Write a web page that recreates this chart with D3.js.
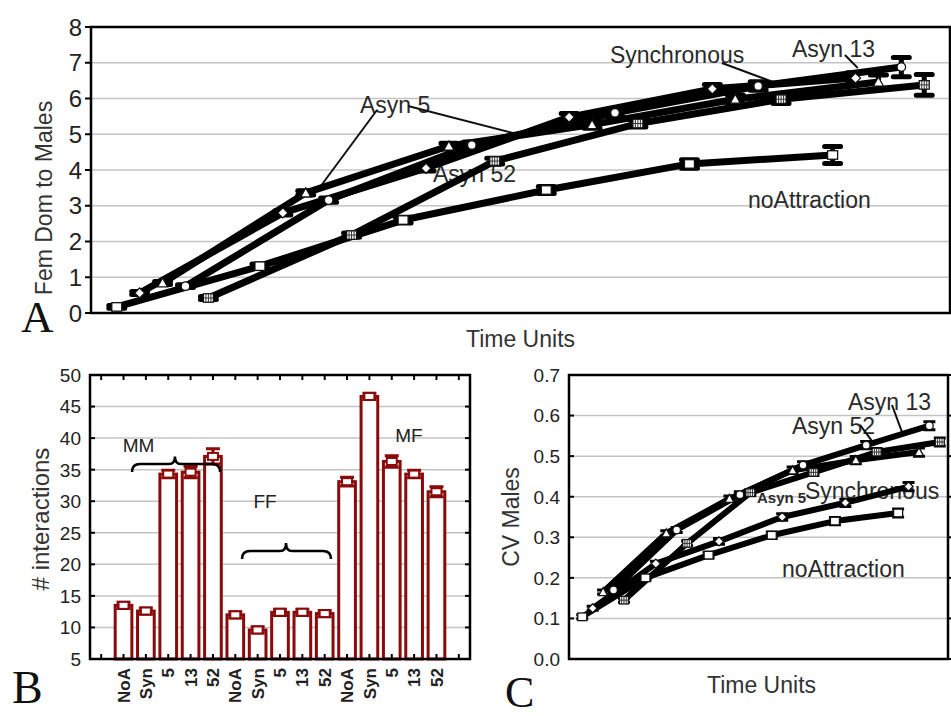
<!DOCTYPE html>
<html><head><meta charset="utf-8">
<script src="https://cdn.jsdelivr.net/npm/d3@7"></script>
<style>body{margin:0;background:#fff}svg{display:block;font-family:"Liberation Sans",Arial,sans-serif}</style>
</head><body><svg id="c" width="951" height="716"></svg>
<script>
// ---------- DATA ----------
const seriesNames = ["noAttraction", "Synchronous", "Asyn 5", "Asyn 13", "Asyn 52"];
const seriesMarkers = ["square", "diamond", "triangle", "circle", "grid"];
const timeSteps = [1, 2, 3, 4, 5, 6];

// Panel A: Fem Dom to Males
const femDomNoAttraction = [0.17, 1.31, 2.60, 3.44, 4.17, 4.42];
const femDomSynchronous  = [0.56, 2.80, 4.05, 5.48, 6.27, 6.57];
const femDomAsyn5        = [0.84, 3.36, 4.67, 5.27, 5.98, 6.46];
const femDomAsyn13       = [0.75, 3.16, 4.70, 5.60, 6.35, 6.88];
const femDomAsyn52       = [0.42, 2.18, 4.25, 5.30, 5.98, 6.38];
const femDomErrNoAttraction = [0.04, 0.06, 0.08, 0.10, 0.12, 0.24];
const femDomErrSynchronous  = [0.04, 0.06, 0.08, 0.10, 0.12, 0.15];
const femDomErrAsyn5        = [0.04, 0.06, 0.08, 0.10, 0.12, 0.20];
const femDomErrAsyn13       = [0.04, 0.06, 0.08, 0.10, 0.12, 0.27];
const femDomErrAsyn52       = [0.04, 0.06, 0.08, 0.10, 0.12, 0.29];
const femDomTicks = [0, 1, 2, 3, 4, 5, 6, 7, 8];

// Panel B: # interactions
const barGroups = ["MM", "FF", "MF"];
const barTickLabels = ["NoA", "Syn", "5", "13", "52"];
const interactionsMM = [13.5, 12.6, 34.3, 34.6, 37.1];
const interactionsFF = [12.0, 9.6, 12.4, 12.4, 12.2];
const interactionsMF = [33.1, 46.6, 36.3, 34.3, 31.5];
const interactionsErrMM = [0.5, 0.5, 0.6, 0.9, 1.2];
const interactionsErrFF = [0.5, 0.5, 0.5, 0.5, 0.5];
const interactionsErrMF = [0.7, 0.5, 0.9, 0.6, 0.8];
const interactionsTicks = [5, 10, 15, 20, 25, 30, 35, 40, 45, 50];

// Panel C: CV Males
const cvNoAttraction = [0.104, 0.200, 0.256, 0.305, 0.340, 0.360];
const cvSynchronous  = [0.125, 0.235, 0.290, 0.350, 0.385, 0.425];
const cvAsyn5        = [0.165, 0.310, 0.395, 0.465, 0.490, 0.510];
const cvAsyn13       = [0.170, 0.318, 0.405, 0.478, 0.527, 0.575];
const cvAsyn52       = [0.145, 0.285, 0.410, 0.460, 0.510, 0.535];
const cvErr          = [0.005, 0.006, 0.007, 0.008, 0.009, 0.010];
const cvTicks = [0.0, 0.1, 0.2, 0.3, 0.4, 0.5, 0.6, 0.7];

// ---------- HELPERS ----------
const svg = d3.select("#c");
const TXT = "#222";

function marker(g, type, x, y, s) {
  const h = s / 2;
  const st = {fill: "#fff", stroke: "#111", "stroke-width": 1.3};
  let m;
  if (type === "square" || type === "grid") {
    m = g.append("rect").attr("x", x - h).attr("y", y - h * 0.85).attr("width", s).attr("height", s * 0.85);
  } else if (type === "diamond") {
    m = g.append("path").attr("d", `M${x},${y - h}L${x + h},${y}L${x},${y + h}L${x - h},${y}Z`);
  } else if (type === "triangle") {
    m = g.append("path").attr("d", `M${x},${y - h}L${x + h},${y + h * 0.8}L${x - h},${y + h * 0.8}Z`);
  } else {
    m = g.append("circle").attr("cx", x).attr("cy", y).attr("r", h * 0.85);
  }
  Object.entries(st).forEach(([k, v]) => m.attr(k, v));
  if (type === "grid") {
    g.append("path").attr("d", `M${x - h},${y}H${x + h}M${x},${y - h * 0.85}V${y + h * 0.85}M${x - h / 2},${y - h * 0.85}V${y + h * 0.85}M${x + h / 2},${y - h * 0.85}V${y + h * 0.85}`)
      .attr("stroke", "#333").attr("stroke-width", 1);
  }
}

// ---------- PANEL A ----------
(function () {
  const L = 91, R = 950, T = 27, B = 313;
  const x = d3.scaleLinear().domain([0.5, 6.5]).range([L, R]);
  const y = d3.scaleLinear().domain([0, 8]).range([B, T]);
  const dodge = d3.scalePoint().domain(seriesNames).range([-0.32, 0.32]);
  const vals = [femDomNoAttraction, femDomSynchronous, femDomAsyn5, femDomAsyn13, femDomAsyn52];
  const errs = [femDomErrNoAttraction, femDomErrSynchronous, femDomErrAsyn5, femDomErrAsyn13, femDomErrAsyn52];
  const g = svg.append("g");
  g.selectAll(".grid").data(femDomTicks.slice(1, -1)).join("line")
    .attr("x1", L).attr("x2", R).attr("y1", d => y(d)).attr("y2", d => y(d))
    .attr("stroke", "#c4c4c4").attr("stroke-width", 1.5);

  const labels = [
    {text: "Asyn 5", t: 2.379, v: 5.594},
    {text: "Asyn 52", t: 2.889, v: 3.664},
    {text: "Synchronous", t: 4.125, v: 6.993},
    {text: "Asyn 13", t: 5.396, v: 7.161},
    {text: "noAttraction", t: 5.089, v: 2.937}
  ];
  g.selectAll(".lab").data(labels).join("text").attr("x", d => x(d.t)).attr("y", d => y(d.v))
    .attr("font-size", 23).attr("fill", "#2a2a2a").text(d => d.text);
  const pointers = [
    [2.498, 5.678, 2.100, 3.524], [2.714, 5.790, 3.448, 5.035],
    [4.907, 6.993, 5.264, 6.462], [5.766, 7.217, 5.856, 6.853]
  ];
  g.selectAll(".ptr").data(pointers).join("line")
    .attr("x1", d => x(d[0])).attr("y1", d => y(d[1])).attr("x2", d => x(d[2])).attr("y2", d => y(d[3]))
    .attr("stroke", "#111").attr("stroke-width", 2);

  seriesNames.forEach((s, i) => {
    const pts = timeSteps.map((t, j) => ({t, v: vals[i][j], e: errs[i][j]}));
    g.append("path").datum(pts)
      .attr("d", d3.line().x(d => x(d.t + dodge(s))).y(d => y(d.v)))
      .attr("fill", "none").attr("stroke", "#000").attr("stroke-width", 7).attr("stroke-linejoin", "round");
    pts.forEach(d => {
      const cx = x(d.t + dodge(s));
      g.append("path").attr("d", `M${cx},${y(d.v + d.e)}V${y(d.v - d.e)}M${cx - 8},${y(d.v + d.e)}H${cx + 8}M${cx - 8},${y(d.v - d.e)}H${cx + 8}`)
        .attr("stroke", "#000").attr("stroke-width", 5).attr("stroke-linecap", "round").attr("fill", "none");
    });
  });
  seriesNames.forEach((s, i) => {
    timeSteps.forEach((t, j) => marker(g, seriesMarkers[i], x(t + dodge(s)), y(vals[i][j]), 10));
  });

  g.append("rect").attr("x", L).attr("y", T).attr("width", R - L).attr("height", B - T)
    .attr("fill", "none").attr("stroke", "#000").attr("stroke-width", 2.5);
  femDomTicks.forEach(t => {
    g.append("line").attr("x1", L - 6).attr("x2", L).attr("y1", y(t)).attr("y2", y(t)).attr("stroke", "#000").attr("stroke-width", 2);
    g.append("line").attr("x1", R).attr("x2", R + 4).attr("y1", y(t)).attr("y2", y(t)).attr("stroke", "#000").attr("stroke-width", 2);
    g.append("text").attr("x", L - 9).attr("y", y(t)).attr("dy", "0.36em").attr("text-anchor", "end")
      .attr("font-size", 24).attr("fill", TXT).text(t);
  });
  g.append("text").attr("transform", `translate(44,${(T + B) / 2 + 28}) rotate(-90)`).attr("dy", "0.36em")
    .attr("text-anchor", "middle").attr("font-size", 23).attr("fill", "#333").text("Fem Dom to Males");
  g.append("text").attr("x", (L + R) / 2).attr("y", 347).attr("text-anchor", "middle")
    .attr("font-size", 23).attr("fill", "#333").text("Time Units");
  g.append("text").attr("x", 21).attr("y", 332).attr("font-family", "Liberation Serif,Times New Roman,serif")
    .attr("font-size", 45).attr("fill", "#111").text("A");
})();

// ---------- PANEL B ----------
(function () {
  const L = 90, R = 470, T = 375, B = 659;
  const RED = "#8a0a0a";
  const cats = [];
  barGroups.forEach(gr => barTickLabels.forEach(l => cats.push(gr + "|" + l)));
  const allVals = [...interactionsMM, ...interactionsFF, ...interactionsMF];
  const allErr = [...interactionsErrMM, ...interactionsErrFF, ...interactionsErrMF];
  const x = d3.scaleBand().domain(cats).range([L, R]).paddingInner(0.12).paddingOuter(1.06);
  const slot = d3.scaleLinear().domain([-0.5, 16.5]).range([L, R]);
  const y = d3.scaleLinear().domain([5, 50]).range([B, T]);
  const g = svg.append("g");
  g.selectAll(".grid").data(interactionsTicks.slice(1, -1)).join("line")
    .attr("x1", L).attr("x2", R).attr("y1", d => y(d)).attr("y2", d => y(d))
    .attr("stroke", "#c4c4c4").attr("stroke-width", 1.5);

  const data = cats.map((c, i) => ({c, v: allVals[i], e: allErr[i], lab: c.split("|")[1]}));
  const bw = x.bandwidth();
  g.selectAll(".bar").data(data).join("rect")
    .attr("x", d => x(d.c) + 1.5).attr("y", d => y(d.v)).attr("width", bw - 3).attr("height", d => B - y(d.v))
    .attr("fill", "#fff").attr("stroke", RED).attr("stroke-width", 3);
  data.forEach(d => {
    const cx = x(d.c) + bw / 2;
    g.append("path").attr("d", `M${cx},${y(d.v + d.e)}V${y(d.v - d.e)}M${cx - 7},${y(d.v + d.e)}H${cx + 7}M${cx - 7},${y(d.v - d.e)}H${cx + 7}`)
      .attr("stroke", RED).attr("stroke-width", 3).attr("fill", "none");
    g.append("rect").attr("x", cx - 5).attr("y", y(d.v) - 3.5).attr("width", 10).attr("height", 7)
      .attr("fill", "#fff").attr("stroke", RED).attr("stroke-width", 2);
  });

  function brace(x0, x1, xm, yb, yt) {
    return `M${x0},${yb + 8}Q${x0},${yb} ${x0 + 8},${yb}L${xm - 6},${yb}Q${xm},${yb} ${xm},${yt}Q${xm},${yb} ${xm + 6},${yb}L${x1 - 8},${yb}Q${x1},${yb} ${x1},${yb + 8}`;
  }
  const braces = [{a: 1.38, b: 5.32, m: 3.3, base: 35.9, tip: 37.1}, {a: 6.3, b: 10.28, m: 8.27, base: 22.1, tip: 23.4}];
  braces.forEach(d => g.append("path").attr("d", brace(slot(d.a), slot(d.b), slot(d.m), y(d.base), y(d.tip)))
    .attr("fill", "none").attr("stroke", "#000").attr("stroke-width", 2.5));
  const groupLabels = [{text: "MM", s: 1.67, v: 37.8}, {text: "FF", s: 7.33, v: 28.93}, {text: "MF", s: 13.77, v: 39.38}];
  g.selectAll(".gl").data(groupLabels).join("text").attr("x", d => slot(d.s)).attr("y", d => y(d.v))
    .attr("text-anchor", "middle").attr("font-size", 19).attr("fill", "#222").text(d => d.text);

  g.append("rect").attr("x", L).attr("y", T).attr("width", R - L).attr("height", B - T)
    .attr("fill", "none").attr("stroke", "#000").attr("stroke-width", 2.5);
  d3.range(17).forEach(k => {
    g.append("line").attr("x1", slot(k)).attr("x2", slot(k)).attr("y1", T).attr("y2", T + 5).attr("stroke", "#000").attr("stroke-width", 2);
    g.append("line").attr("x1", slot(k)).attr("x2", slot(k)).attr("y1", B).attr("y2", B - 5).attr("stroke", "#000").attr("stroke-width", 2);
  });
  interactionsTicks.forEach(t => {
    g.append("line").attr("x1", L).attr("x2", L + 5).attr("y1", y(t)).attr("y2", y(t)).attr("stroke", "#000").attr("stroke-width", 2);
    g.append("line").attr("x1", R - 5).attr("x2", R).attr("y1", y(t)).attr("y2", y(t)).attr("stroke", "#000").attr("stroke-width", 2);
    g.append("text").attr("x", L - 9).attr("y", y(t)).attr("dy", "0.36em").attr("text-anchor", "end")
      .attr("font-size", 19).attr("fill", TXT).text(t);
  });
  data.forEach(d => {
    g.append("text").attr("transform", `translate(${x(d.c) + bw / 2},${B + 9}) rotate(-90)`)
      .attr("dy", "0.36em").attr("text-anchor", "end").attr("font-size", 17).attr("font-weight", "bold")
      .attr("fill", "#222").text(d.lab);
  });
  g.append("text").attr("transform", `translate(40,${(T + B) / 2 + 2}) rotate(-90)`).attr("dy", "0.36em")
    .attr("text-anchor", "middle").attr("font-size", 24).attr("fill", "#333").text("# interactions");
  g.append("text").attr("x", 12).attr("y", 703).attr("font-family", "Liberation Serif,Times New Roman,serif")
    .attr("font-size", 46).attr("fill", "#111").text("B");
})();

// ---------- PANEL C ----------
(function () {
  const L = 569, R = 948, T = 375, B = 659;
  const x = d3.scaleLinear().domain([0.45, 6.45]).range([L, R]);
  const y = d3.scaleLinear().domain([0, 0.7]).range([B, T]);
  const dodge = d3.scalePoint().domain(seriesNames).range([-0.34, 0.32]);
  const vals = [cvNoAttraction, cvSynchronous, cvAsyn5, cvAsyn13, cvAsyn52];
  const g = svg.append("g");
  g.selectAll(".grid").data(cvTicks.slice(1, -1)).join("line")
    .attr("x1", L).attr("x2", R).attr("y1", d => y(d)).attr("y2", d => y(d))
    .attr("stroke", "#c4c4c4").attr("stroke-width", 1.5);

  const labels = [
    {text: "Asyn 13", t: 4.867, v: 0.614, fs: 23, fw: "normal"},
    {text: "Asyn 52", t: 3.980, v: 0.555, fs: 23, fw: "normal"},
    {text: "Synchronous", t: 4.186, v: 0.394, fs: 23, fw: "normal"},
    {text: "Asyn 5", t: 3.426, v: 0.385, fs: 15, fw: "bold"},
    {text: "noAttraction", t: 3.823, v: 0.202, fs: 23, fw: "normal"}
  ];
  g.selectAll(".lab").data(labels).join("text").attr("x", d => x(d.t)).attr("y", d => y(d.v))
    .attr("font-size", d => d.fs).attr("font-weight", d => d.fw).attr("fill", "#2a2a2a").text(d => d.text);
  const pointers = [[5.563, 0.626, 5.721, 0.560], [5.057, 0.577, 5.294, 0.527]];
  g.selectAll(".ptr").data(pointers).join("line")
    .attr("x1", d => x(d[0])).attr("y1", d => y(d[1])).attr("x2", d => x(d[2])).attr("y2", d => y(d[3]))
    .attr("stroke", "#111").attr("stroke-width", 2);

  seriesNames.forEach((s, i) => {
    const pts = timeSteps.map((t, j) => ({t, v: vals[i][j], e: cvErr[j]}));
    g.append("path").datum(pts)
      .attr("d", d3.line().x(d => x(d.t + dodge(s))).y(d => y(d.v)))
      .attr("fill", "none").attr("stroke", "#000").attr("stroke-width", 6).attr("stroke-linejoin", "round");
    pts.forEach(d => {
      const cx = x(d.t + dodge(s));
      g.append("path").attr("d", `M${cx},${y(d.v + d.e)}V${y(d.v - d.e)}M${cx - 6},${y(d.v + d.e)}H${cx + 6}M${cx - 6},${y(d.v - d.e)}H${cx + 6}`)
        .attr("stroke", "#000").attr("stroke-width", 3).attr("fill", "none");
    });
  });
  seriesNames.forEach((s, i) => {
    timeSteps.forEach((t, j) => marker(g, seriesMarkers[i], x(t + dodge(s)), y(vals[i][j]), 9));
  });

  g.append("rect").attr("x", L).attr("y", T).attr("width", R - L).attr("height", B - T)
    .attr("fill", "none").attr("stroke", "#000").attr("stroke-width", 2.5);
  cvTicks.forEach(t => {
    g.append("line").attr("x1", L).attr("x2", L + 5).attr("y1", y(t)).attr("y2", y(t)).attr("stroke", "#000").attr("stroke-width", 2);
    g.append("line").attr("x1", R).attr("x2", R + 3).attr("y1", y(t)).attr("y2", y(t)).attr("stroke", "#000").attr("stroke-width", 2);
    g.append("text").attr("x", L - 9).attr("y", y(t)).attr("dy", "0.36em").attr("text-anchor", "end")
      .attr("font-size", 19).attr("fill", TXT).text(d3.format(".1f")(t));
  });
  g.append("text").attr("transform", `translate(511,${(T + B) / 2}) rotate(-90)`).attr("dy", "0.36em")
    .attr("text-anchor", "middle").attr("font-size", 23).attr("fill", "#333").text("CV Males");
  g.append("text").attr("x", (L + R) / 2 + 3).attr("y", 693).attr("text-anchor", "middle")
    .attr("font-size", 23).attr("fill", "#333").text("Time Units");
  g.append("text").attr("x", 505).attr("y", 707).attr("font-family", "Liberation Serif,Times New Roman,serif")
    .attr("font-size", 44).attr("fill", "#111").text("C");
})();
</script></body></html>
